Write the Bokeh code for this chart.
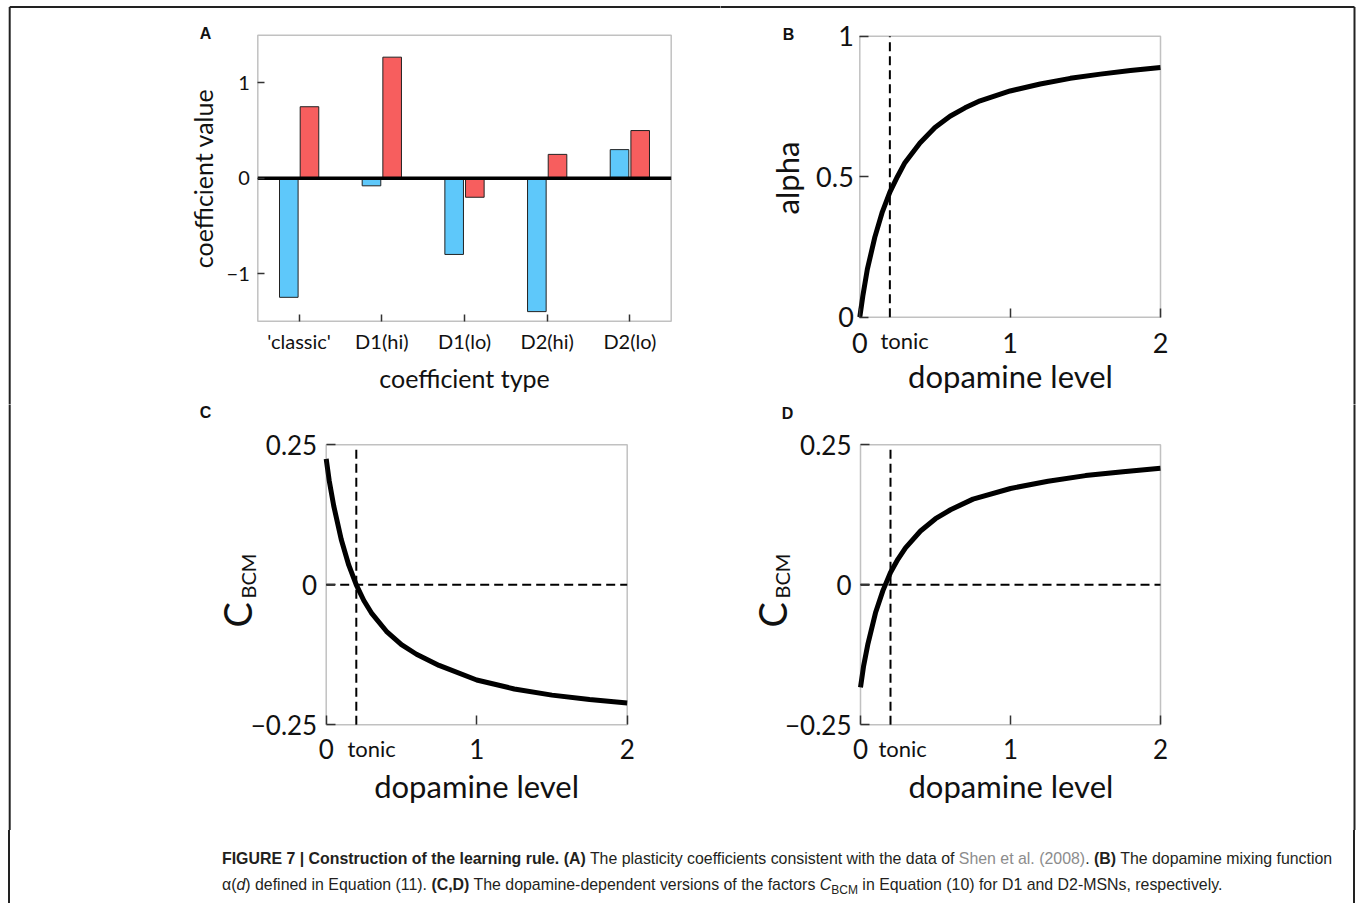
from bokeh.plotting import figure
from bokeh.models import Range1d, FixedTicker, Label, Div, ColumnDataSource, BoxAnnotation
from bokeh.layouts import row, column
from bokeh.transform import dodge
from bokeh.embed import file_html
from bokeh.resources import INLINE

FONT = "Lato"
CAP_FONT = "Liberation Sans"
BLUE = "#5ec8fa"
RED = "#f75e5e"
INK = "#111111"
EDGE = "#333333"
HALF_PI = 1.5707963

# ---------------- data ----------------
categories = ["'classic'", "D1(hi)", "D1(lo)", "D2(hi)", "D2(lo)"]
coef_blue = [-1.25, -0.08, -0.80, -1.40, 0.30]
coef_red = [0.75, 1.27, -0.20, 0.25, 0.50]

tonic_level = 0.2

dop_b = [0, 0.02, 0.05, 0.1, 0.15, 0.2, 0.25, 0.3, 0.4, 0.5, 0.6, 0.7, 0.8, 1.0, 1.2, 1.4, 1.6, 1.8, 2.0]
alpha_b = [0, 0.075, 0.17, 0.285, 0.375, 0.445, 0.50, 0.55, 0.62, 0.675, 0.715, 0.745, 0.77, 0.805, 0.83, 0.85, 0.865, 0.878, 0.889]

dop_cd = [0, 0.02, 0.05, 0.1, 0.15, 0.2, 0.25, 0.3, 0.4, 0.5, 0.6, 0.75, 1.0, 1.25, 1.5, 1.75, 2.0]
cbcm_d1 = [0.225, 0.186, 0.141, 0.081, 0.035, 0.0, -0.028, -0.050, -0.083, -0.107, -0.124, -0.144, -0.170, -0.186, -0.197, -0.205, -0.211]
cbcm_d2 = [-0.183, -0.146, -0.105, -0.050, -0.010, 0.022, 0.046, 0.066, 0.096, 0.118, 0.134, 0.153, 0.172, 0.185, 0.195, 0.202, 0.208]

ticks_a_y = [-1, 0, 1]
labels_a_y = {-1: "\u22121", 0: "0", 1: "1"}
ticks_b_y = [0, 0.5, 1]
labels_b_y = {0: "0", 0.5: "0.5", 1: "1"}
ticks_dop = [0, 1, 2]
labels_dop = {0: "0", 1: "1", 2: "2"}
ticks_cbcm = [-0.25, 0, 0.25]
labels_cbcm = {-0.25: "\u22120.25", 0: "0", 0.25: "0.25"}

caption_line1 = ('<b>FIGURE 7 | Construction of the learning rule. (A)</b> The plasticity coefficients consistent '
                 'with the data of <span style="color:#8c8c8c">Shen et al. (2008)</span>. <b>(B)</b> The dopamine mixing function')
caption_line2 = ('\u03b1(<i>d</i>) defined in Equation (11). <b>(C,D)</b> The dopamine-dependent versions of the factors '
                 '<i>C</i><sub style="font-size:12px">BCM</sub> in Equation (10) for D1 and D2-MSNs, respectively.')


# ---------------- geometry (page pixels) ----------------
class Geo:
    def __init__(self, canvas, panel, xlim, ylim):
        x0, x1, y0, y1 = canvas
        l, r, t, b = panel
        self.w, self.h = x1 - x0, y1 - y0
        self.x0, self.y0 = x0, y0
        self.left_px = l
        self.xlim, self.ylim = xlim, ylim
        self.sx = (r - l) / (xlim[1] - xlim[0])
        self.sy = (b - t) / (ylim[1] - ylim[0])
        self.xs = xlim[0] - (l - x0) / self.sx
        self.xe = xlim[1] + (x1 - r) / self.sx
        self.ye = ylim[1] + (t - y0) / self.sy
        self.ys = ylim[0] - (y1 - b) / self.sy

    def x(self, px):
        return self.xs + (px - self.x0) / self.sx

    def y(self, py):
        return self.ye - (py - self.y0) / self.sy


SPLIT_X, SPLIT_Y, ROW2_END, PAGE_W = 720, 404, 830, 1356
gA = Geo((0, SPLIT_X, 0, SPLIT_Y), (257.3, 670.7, 34.75, 320.65), (0.5, 5.5), (-1.5, 1.5))
gB = Geo((SPLIT_X, PAGE_W, 0, SPLIT_Y), (859.3, 1160, 35.7, 316.7), (0, 2), (0, 1))
gC = Geo((0, SPLIT_X, SPLIT_Y, ROW2_END), (325.7, 626.7, 444.3, 724.3), (0, 2), (-0.25, 0.25))
gD = Geo((SPLIT_X, PAGE_W, SPLIT_Y, ROW2_END), (860, 1160, 444.3, 724.3), (0, 2), (-0.25, 0.25))

FRAME_TOP, FRAME_LEFT, FRAME_RIGHT = 6.5, 9.2, 1354
BASE_SHIFT = 0.23  # alphabetic-baseline correction, as a fraction of the font size


def make_fig(g):
    p = figure(width=g.w, height=g.h, x_range=Range1d(g.xs, g.xe), y_range=Range1d(g.ys, g.ye),
               min_border=0, output_backend="svg", toolbar_location=None)
    p.grid.visible = False
    p.outline_line_color = None
    p.background_fill_color = "white"
    p.border_fill_color = "white"
    p.add_layout(BoxAnnotation(left=g.xlim[0], right=g.xlim[1], bottom=g.ylim[0], top=g.ylim[1],
                               fill_color=None, fill_alpha=0, line_color=EDGE, line_width=1.5))
    p.xaxis.fixed_location = g.ylim[0]
    p.yaxis.fixed_location = g.xlim[0]
    return p


def style_axes(p, tick_size, tick_len, x_standoff, y_standoff):
    for ax in p.axis:
        ax.axis_line_color = None
        ax.major_tick_in = tick_len
        ax.major_tick_out = 0
        ax.major_tick_line_color = EDGE
        ax.major_tick_line_width = 1.5
        ax.minor_tick_line_color = None
        ax.major_label_text_font = FONT
        ax.major_label_text_font_size = tick_size
        ax.major_label_text_color = INK
    p.xaxis.major_label_standoff = x_standoff
    p.yaxis.major_label_standoff = y_standoff


def text(p, g, px, py, t, size, align="left", baseline="alphabetic", angle=0.0, font=FONT, bold=False):
    if baseline == "alphabetic":
        fs = float(size.replace("px", ""))
        if angle == 0.0:
            py -= BASE_SHIFT * fs
        else:
            px -= BASE_SHIFT * fs
    p.add_layout(Label(x=g.x(px), y=g.y(py), text=t, angle=angle, text_font=font,
                       text_font_style="bold" if bold else "normal", text_font_size=size,
                       text_align=align, text_baseline=baseline, text_color=INK))


def edge_line(p, g, side):
    kw = dict(line_color="#222222", line_width=2)
    top = FRAME_TOP if g.y0 < FRAME_TOP + 1 else g.y0 - 4
    bottom = g.y0 + g.h + 4
    if side == "top":
        x_from = max(g.x0 - 4, FRAME_LEFT)
        x_to = min(g.x0 + g.w + 4, FRAME_RIGHT)
        p.line([g.x(x_from), g.x(x_to)], [g.y(FRAME_TOP), g.y(FRAME_TOP)], **kw)
    elif side == "left":
        p.line([g.x(FRAME_LEFT), g.x(FRAME_LEFT)], [g.y(top), g.y(bottom)], **kw)
    else:
        p.line([g.x(FRAME_RIGHT), g.x(FRAME_RIGHT)], [g.y(top), g.y(bottom)], **kw)


# ---------------- panel A ----------------
positions = list(range(1, len(categories) + 1))
src = ColumnDataSource(dict(pos=positions, blue=coef_blue, red=coef_red))
pA = make_fig(gA)
pA.vbar(x=dodge("pos", -0.125), top="blue", width=0.225, source=src,
        fill_color=BLUE, line_color="#222222", line_width=1)
pA.vbar(x=dodge("pos", 0.125), top="red", width=0.225, source=src,
        fill_color=RED, line_color="#222222", line_width=1)
pA.line(list(gA.xlim), [0, 0], line_color="black", line_width=3.5)
pA.xaxis.ticker = FixedTicker(ticks=positions)
pA.xaxis.major_label_overrides = {pos: cat for pos, cat in zip(positions, categories)}
pA.yaxis.ticker = FixedTicker(ticks=ticks_a_y)
pA.yaxis.major_label_overrides = labels_a_y
style_axes(pA, "20px", 7, 8, 8)
text(pA, gA, 464, 383, "coefficient type", "25px", align="center")
text(pA, gA, 202, 178, "coefficient value", "25px", align="center", baseline="middle", angle=HALF_PI)
text(pA, gA, 205, 33, "A", "16px", align="center", baseline="middle", font=CAP_FONT, bold=True)
edge_line(pA, gA, "top")
edge_line(pA, gA, "left")

# ---------------- panel B ----------------
pB = make_fig(gB)
pB.line([tonic_level, tonic_level], list(gB.ylim), line_color="black", line_width=2, line_dash="9 5")
pB.line(dop_b, alpha_b, line_color="black", line_width=5, line_join="round")
pB.xaxis.ticker = FixedTicker(ticks=ticks_dop)
pB.xaxis.major_label_overrides = labels_dop
pB.yaxis.ticker = FixedTicker(ticks=ticks_b_y)
pB.yaxis.major_label_overrides = labels_b_y
style_axes(pB, "27px", 9, 16, 6)
text(pB, gB, 1010, 383, "dopamine level", "31px", align="center")
text(pB, gB, 786, 177.5, "alpha", "31px", align="center", baseline="middle", angle=HALF_PI)
text(pB, gB, 880, 345, "tonic", "22px")
text(pB, gB, 788, 34, "B", "16px", align="center", baseline="middle", font=CAP_FONT, bold=True)
edge_line(pB, gB, "top")
edge_line(pB, gB, "right")


# ---------------- panels C, D ----------------
def cpanel(g, ys, letter, letter_px, tonic_px):
    p = make_fig(g)
    p.line([tonic_level, tonic_level], list(g.ylim), line_color="black", line_width=2, line_dash="9 5")
    p.line(list(g.xlim), [0, 0], line_color="black", line_width=2, line_dash="9 5")
    p.line(dop_cd, ys, line_color="black", line_width=5, line_join="round")
    p.xaxis.ticker = FixedTicker(ticks=ticks_dop)
    p.xaxis.major_label_overrides = labels_dop
    p.yaxis.ticker = FixedTicker(ticks=ticks_cbcm)
    p.yaxis.major_label_overrides = labels_cbcm
    style_axes(p, "26px", 9, 14, 9)
    fl = g.left_px
    text(p, g, fl + 150.4, 793, "dopamine level", "31px", align="center")
    text(p, g, tonic_px, 753, "tonic", "22px")
    text(p, g, letter_px[0], letter_px[1], letter, "16px", align="center", baseline="middle",
         font=CAP_FONT, bold=True)
    text(p, g, fl - 80, 627, "C", "38px", angle=HALF_PI)
    text(p, g, fl - 74, 598, "BCM", "20px", angle=HALF_PI)
    return p


pC = cpanel(gC, cbcm_d1, "C", (205, 412), 347)
edge_line(pC, gC, "left")
pD = cpanel(gD, cbcm_d2, "D", (787, 413), 878)
edge_line(pD, gD, "right")

# ---------------- caption ----------------
cap_h = 903 - ROW2_END
caption = Div(text=('<div style="margin-left:8px;width:1347px;height:%dpx;box-sizing:border-box;'
                    'border-left:2px solid #222;border-right:2px solid #222;padding-left:212px;padding-top:16px;'
                    'font-family:\'Liberation Sans\', Arial, sans-serif;font-size:15.9px;line-height:26px;'
                    'color:#231f20;white-space:nowrap;">' % cap_h
                    + caption_line1 + '<br>' + caption_line2 + '</div>'),
              width=PAGE_W, height=cap_h, margin=0)

layout = column(row(pA, pB), row(pC, pD), caption)

open("out.html", "w").write(file_html(layout, INLINE))
